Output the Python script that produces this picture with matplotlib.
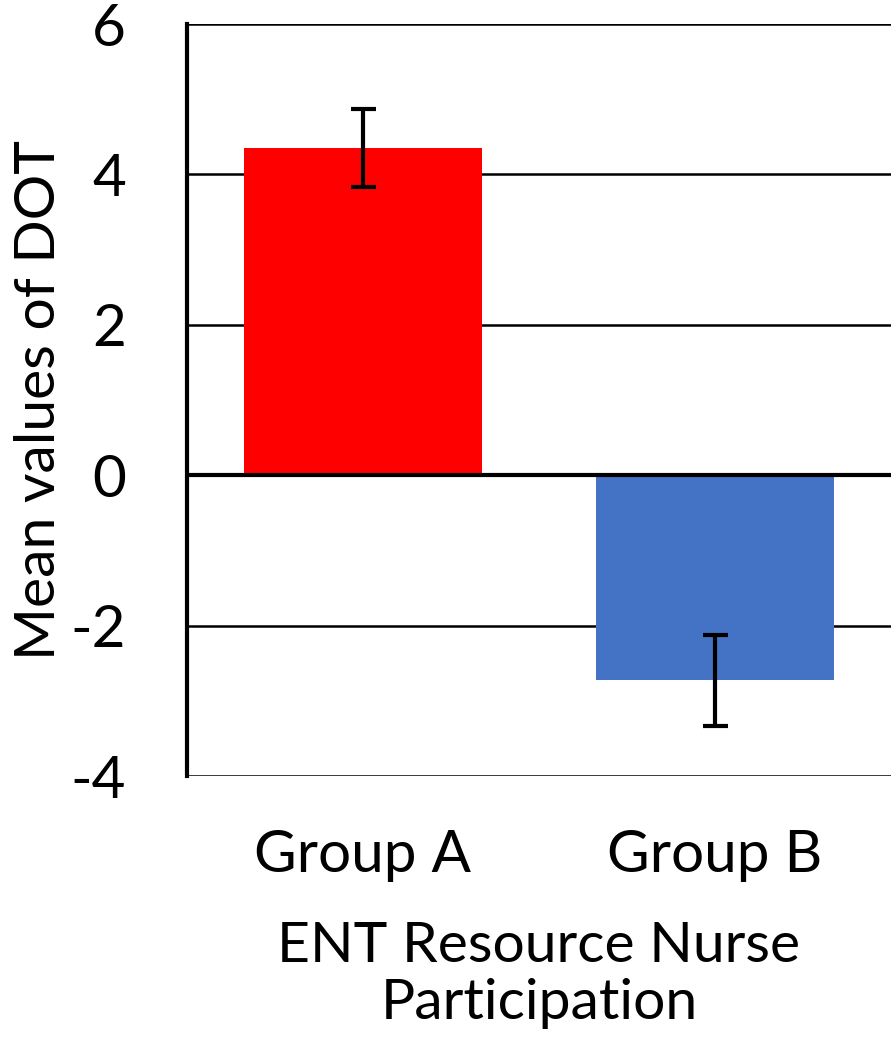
import matplotlib
matplotlib.use("Agg")
import matplotlib.pyplot as plt

categories = ["Group A", "Group B"]
means = [4.35, -2.73]
errors = [0.52, 0.61]
colors = ["#FF0000", "#4472C4"]
yticks = [-4, -2, 0, 2, 4, 6]

plt.rcParams['font.family'] = ['Lato', 'DejaVu Sans']

fig = plt.figure(figsize=(8.94, 10.58), dpi=100)
ax = fig.add_axes([187/894, 1-776/1058, (891-187)/894, (776-24)/1058])

x = list(range(len(categories)))
ax.bar(x, means, width=0.676, color=colors, zorder=3)
ax.errorbar(x, means, yerr=errors, fmt='none', ecolor='black', elinewidth=3,
            capsize=9, capthick=3, zorder=4)

ax.set_xlim(-0.5, 1.5)
ax.set_ylim(-4, 6)
ax.set_yticks(yticks)
ax.set_yticklabels([str(t) for t in yticks], fontsize=42)
ax.set_xticks(x)
ax.set_xticklabels(categories, fontsize=42)
ax.tick_params(axis='y', length=0, pad=44)
ax.tick_params(axis='x', length=0, pad=38)

for t in yticks:
    ax.axhline(t, color='black', lw=3.0 if t == 0 else 1.8, zorder=2 if t != 0 else 5)

for s in ['top', 'right', 'bottom']:
    ax.spines[s].set_visible(False)
ax.spines['left'].set_linewidth(3)
ax.spines['left'].set_zorder(6)

ax.set_ylabel("Mean values of DOT", fontsize=41, labelpad=4)
ax.set_xlabel("ENT Resource Nurse\nParticipation", fontsize=41, labelpad=28, linespacing=1.15)

fig.savefig("out.png", dpi=100, facecolor='white')
